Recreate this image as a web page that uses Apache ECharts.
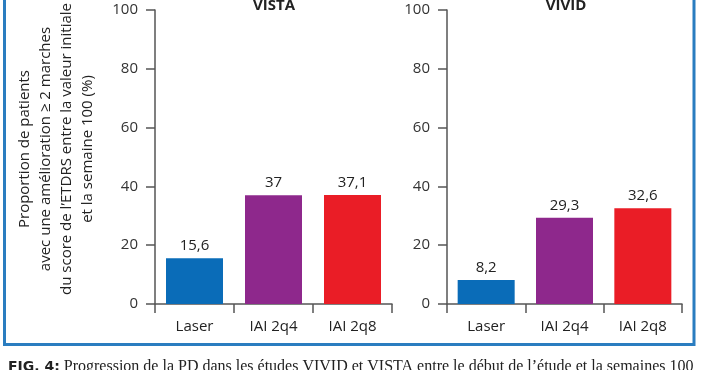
<!DOCTYPE html>
<html>
<head>
<meta charset="utf-8">
<script src="https://cdn.jsdelivr.net/npm/echarts@6/dist/echarts.min.js"></script>
<style>html,body{margin:0;padding:0;background:#fff;}#c{width:702px;height:370px;}</style>
</head>
<body>
<div id="c"></div>
<script>
var categories = ['Laser', 'IAI 2q4', 'IAI 2q8'];
var vistaValues = [15.6, 37, 37.1];
var vividValues = [8.2, 29.3, 32.6];
var panelTitles = ['VISTA', 'VIVID'];
var barColors = ['#0a6cb8', '#8e288c', '#ea1d26'];
var yTitleLines = ['Proportion de patients', 'avec une amélioration ≥ 2 marches', "du score de l’ETDRS entre la valeur initiale", 'et la semaine 100 (%)'];
var caption = 'Progression de la PD dans les études VIVID et VISTA entre le début de l’étude et la semaines 100';

var FONT = 'Open Sans';
var axisColor = '#555';
function fmt(v) { return String(v).replace('.', ','); }

function yAxis(idx) {
  return {
    gridIndex: idx, type: 'value', min: 0, max: 100, interval: 20,
    axisLine: { show: true, lineStyle: { color: axisColor, width: 1.5 } },
    axisTick: { show: true, length: 9, lineStyle: { color: axisColor, width: 1.5 } },
    axisLabel: { margin: 17, color: '#333', fontSize: 15, fontFamily: FONT },
    splitLine: { show: false }
  };
}
function xAxis(idx) {
  return {
    gridIndex: idx, type: 'category', data: categories,
    axisLine: { show: true, lineStyle: { color: axisColor, width: 1.5 } },
    axisTick: { show: true, length: 9, lineStyle: { color: axisColor, width: 1.5 } },
    axisLabel: { margin: 15, color: '#222', fontSize: 15, fontFamily: FONT }
  };
}
function series(idx, vals) {
  return {
    type: 'bar', xAxisIndex: idx, yAxisIndex: idx, barWidth: 57,
    data: vals.map(function (v, i) { return { value: v, itemStyle: { color: barColors[i] } }; }),
    label: { show: true, position: 'top', distance: 5, color: '#222', fontSize: 15, fontFamily: FONT,
      formatter: function (p) { return fmt(p.value); } }
  };
}

var chart = echarts.init(document.getElementById('c'), null, { renderer: 'canvas' });
chart.setOption({
  animation: false,
  backgroundColor: '#fff',
  grid: [
    { left: 155, top: 10, width: 237, height: 294 },
    { left: 447, top: 10, width: 235, height: 294 }
  ],
  xAxis: [xAxis(0), xAxis(1)],
  yAxis: [yAxis(0), yAxis(1)],
  series: [series(0, vistaValues), series(1, vividValues)],
  graphic: [
    { type: 'rect', shape: { x: 4.5, y: -20, width: 689.5, height: 364.5 },
      style: { fill: 'none', stroke: '#2a7dc0', lineWidth: 3 } },
    { type: 'text', x: 274, y: -2, style: { text: panelTitles[0], textAlign: 'center', textVerticalAlign: 'top',
      font: 'bold 15px "' + FONT + '"', fill: '#222' } },
    { type: 'text', x: 566, y: -2, style: { text: panelTitles[1], textAlign: 'center', textVerticalAlign: 'top',
      font: 'bold 15px "' + FONT + '"', fill: '#222' } },
    { type: 'text', x: 56, y: 149, rotation: Math.PI / 2,
      style: { text: yTitleLines.join('\n'), textAlign: 'center', textVerticalAlign: 'middle',
        font: '15px "' + FONT + '"', lineHeight: 21, fill: '#222' } },
    { type: 'text', x: 8, y: 359, style: { text: '{b|FIG. 4:} ' + caption,
      rich: { b: { fontFamily: 'DejaVu Sans', fontWeight: 'bold', fontSize: 14, fill: '#222' } },
      font: '16px "Liberation Serif"', fill: '#222' } }
  ]
});
</script>
</body>
</html>
